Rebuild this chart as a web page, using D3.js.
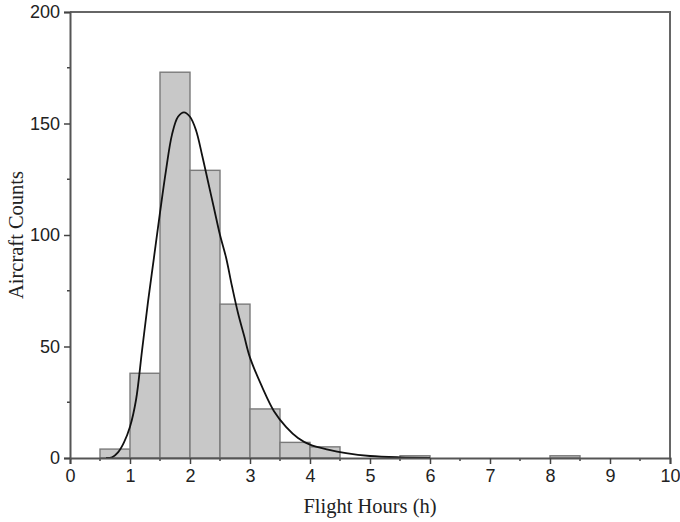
<!DOCTYPE html>
<html>
<head>
<meta charset="utf-8">
<script src="https://cdn.jsdelivr.net/npm/d3@7"></script>
<style>
  body { margin: 0; background: #fff; }
  .tick text { font-family: "Liberation Sans", Arial, sans-serif; font-size: 18px; fill: #222; }
  .axis-title { font-family: "Liberation Serif", "Times New Roman", serif; font-size: 20.5px; fill: #222; }
</style>
</head>
<body>
<div id="chart"></div>
<script>
// histogram bins (left edge, width 0.5 h) and counts
const binStart = [0.5, 1.0, 1.5, 2.0, 2.5, 3.0, 3.5, 4.0, 4.5, 5.0, 5.5, 6.0, 6.5, 7.0, 7.5, 8.0];
const binCount = [4, 38, 173, 129, 69, 22, 7, 5, 0, 0, 1, 0, 0, 0, 0, 1];
const binWidth = 0.5;

// fitted curve
const curveHours = [0.6, 0.7, 0.8, 0.9, 1.0, 1.1, 1.2, 1.3, 1.4, 1.5, 1.6, 1.7, 1.8, 1.9, 2.0,
  2.1, 2.2, 2.3, 2.4, 2.5, 2.6, 2.7, 2.8, 2.9, 3.0, 3.2, 3.4, 3.6, 3.8, 4.0, 4.3, 4.6, 5.0, 5.5, 6.0];
const curveCount = [0, 0.3, 2.5, 7, 14, 26, 48, 70, 90, 110, 129, 145, 153, 155, 153,
  147, 136, 124, 112, 100, 90, 77, 65, 55, 45, 32, 21, 14, 9, 6, 3.8, 2.2, 0.9, 0.3, 0.1];

const xTicks = [0, 1, 2, 3, 4, 5, 6, 7, 8, 9, 10];
const yTicks = [0, 50, 100, 150, 200];

const margin = {top: 12, right: 10, bottom: 64, left: 70},
    width = 680 - margin.left - margin.right,
    height = 522 - margin.top - margin.bottom;

const svg = d3.select("#chart")
    .append("svg")
    .attr("width", 680)
    .attr("height", 522)
    .append("g")
    .attr("transform", `translate(${margin.left},${margin.top})`);

const x = d3.scaleLinear().domain([0, 10]).range([0, width]);
const y = d3.scaleLinear().domain([0, 200]).range([height, 0]);

// bars
svg.append("g")
    .selectAll("rect")
    .data(binStart.map((s, i) => ({s: s, c: binCount[i]})).filter(d => d.c > 0))
    .join("rect")
    .attr("x", d => x(d.s))
    .attr("y", d => y(d.c))
    .attr("width", d => x(d.s + binWidth) - x(d.s))
    .attr("height", d => y(0) - y(d.c))
    .attr("fill", "#c8c8c8")
    .attr("stroke", "#7a7a7a")
    .attr("stroke-width", 1.4);

// fitted curve
const pts = curveHours.map((h, i) => [h, curveCount[i]]);
svg.append("path")
    .datum(pts)
    .attr("fill", "none")
    .attr("stroke", "#111")
    .attr("stroke-width", 1.8)
    .attr("d", d3.line().x(d => x(d[0])).y(d => y(d[1])).curve(d3.curveCatmullRom));

// frame top & right
svg.append("path")
    .attr("d", `M0,0H${width}V${height}`)
    .attr("fill", "none")
    .attr("stroke", "#666")
    .attr("stroke-width", 2);

// minor ticks
const minorX = d3.range(0.5, 10, 1);
const minorY = d3.range(25, 200, 50);
svg.append("g").selectAll("line").data(minorX).join("line")
    .attr("x1", d => x(d)).attr("x2", d => x(d))
    .attr("y1", height).attr("y2", height + 3)
    .attr("stroke", "#444").attr("stroke-width", 1.5);
svg.append("g").selectAll("line").data(minorY).join("line")
    .attr("y1", d => y(d)).attr("y2", d => y(d))
    .attr("x1", 0).attr("x2", -3)
    .attr("stroke", "#444").attr("stroke-width", 1.5);

// axes
const xAxis = svg.append("g")
    .attr("transform", `translate(0,${height})`)
    .call(d3.axisBottom(x).tickValues(xTicks).tickSize(6).tickPadding(5).tickFormat(d3.format("d")));
const yAxis = svg.append("g")
    .call(d3.axisLeft(y).tickValues(yTicks).tickSize(6).tickPadding(4));

[xAxis, yAxis].forEach(a => {
    a.select(".domain").attr("stroke", "#555").attr("stroke-width", 2);
    a.selectAll(".tick line").attr("stroke", "#444").attr("stroke-width", 1.5);
});

svg.append("text")
    .attr("class", "axis-title")
    .attr("x", width / 2)
    .attr("y", height + 55)
    .attr("text-anchor", "middle")
    .text("Flight Hours (h)");

svg.append("text")
    .attr("class", "axis-title")
    .attr("transform", `translate(-47,${y(100)}) rotate(-90)`)
    .attr("text-anchor", "middle")
    .text("Aircraft Counts");
</script>
</body>
</html>
